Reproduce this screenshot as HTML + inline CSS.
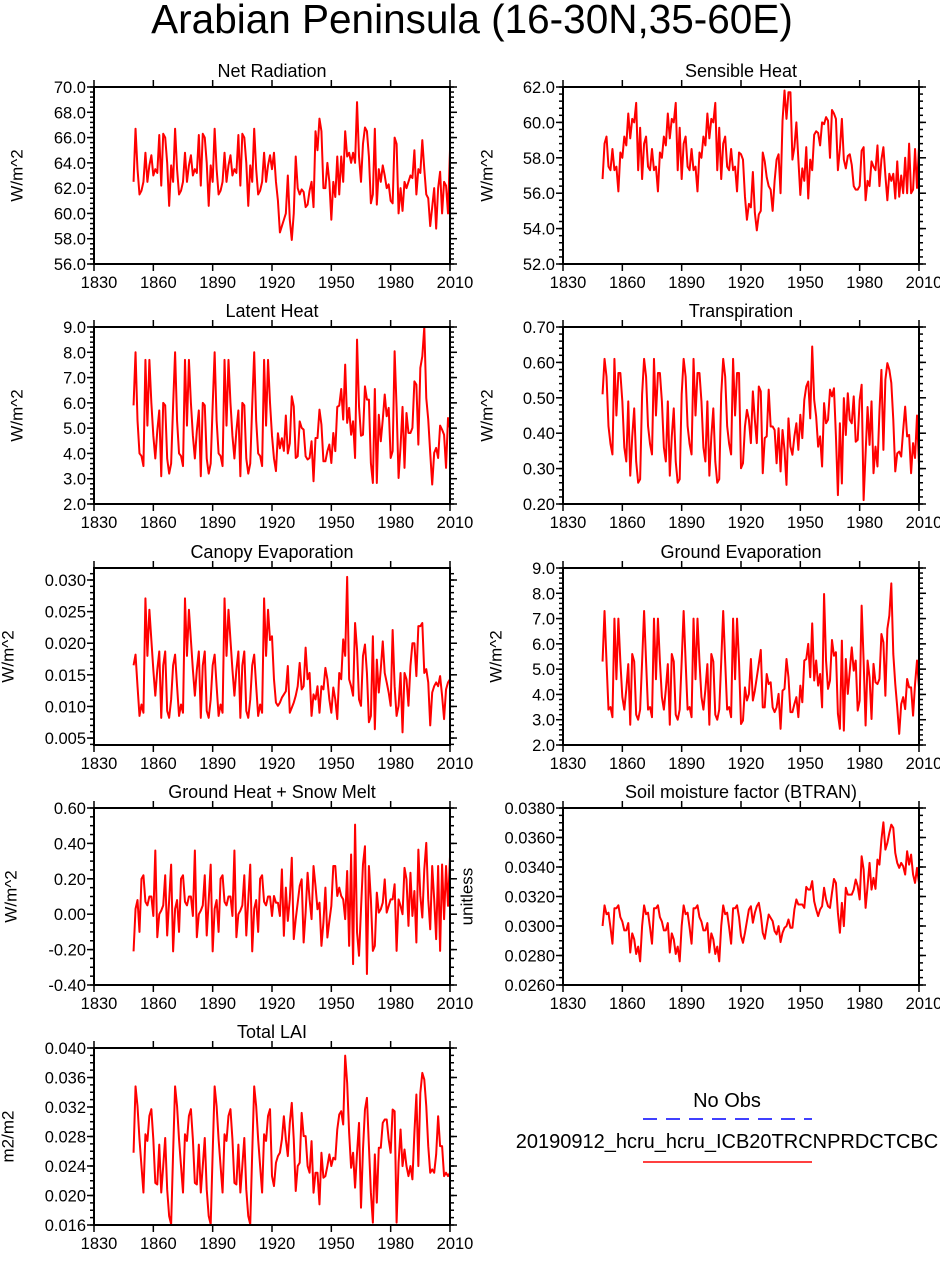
<!DOCTYPE html>
<html><head><meta charset="utf-8"><style>
html,body{margin:0;padding:0;background:#fff;}
svg{display:block;font-family:"Liberation Sans",Arial,sans-serif;}
</style></head><body>
<svg id="chart" width="940" height="1261" viewBox="0 0 940 1261">
<text x="472" y="33" font-size="40.5" text-anchor="middle">Arabian Peninsula (16-30N,35-60E)</text>
<g>
<text x="727" y="1107" font-size="20" text-anchor="middle">No Obs</text>
<line x1="643" y1="1119" x2="812" y2="1119" stroke="#0000ff" stroke-width="1.5" stroke-dasharray="14,9"/>
<text x="727" y="1148" font-size="20" text-anchor="middle">20190912_hcru_hcru_ICB20TRCNPRDCTCBC</text>
<line x1="643" y1="1162" x2="812" y2="1162" stroke="#ff0000" stroke-width="1.5"/>
</g>
</svg>
<script>
const xTicks = [1830,1860,1890,1920,1950,1980,2010];
const firstYear = 1850;

const netRadCycle = [62.5,66.7,63.5,61.5,61.8,62.5,64.8,62.5,63.8,64.6,63.0,63.5,63.2,66.2,62.2,66.3,66.0,64.0,60.6,63.8];
const netRadLate = [63.5,64.8,62.5,61.0,58.5,59.0,59.5,60.0,63.0,59.5,57.9,60.0,64.5,62.0,61.5,61.9,61.7,60.5,60.7,61.8,62.5,60.5,66.5,65.0,67.5,66.5,62.0,62.0,64.0,62.5,59.5,62.5,61.3,64.5,61.5,64.5,62.5,66.5,64.5,64.8,64.0,64.8,64.0,68.8,64.5,62.5,65.5,66.8,66.5,64.5,60.8,61.5,66.7,60.7,63.5,62.5,63.8,63.0,62.0,62.3,61.0,60.8,66.0,65.5,60.0,62.0,60.2,62.5,62.0,62.5,63.0,62.8,65.0,61.5,63.5,63.2,65.8,63.5,61.5,61.2,59.0,60.5,62.0,58.8,62.0,63.3,60.0,62.5,62.2,60.0,65.0];

const sensCycle = [56.8,58.8,59.2,57.5,57.3,58.5,57.3,57.5,56.1,58.3,58.0,59.2,58.7,60.5,59.1,60.2,60.0,61.1,57.3,59.7];
const sensLate = [58.2,57.9,55.8,54.5,55.4,55.2,57.2,54.9,53.9,54.8,55.0,58.3,57.8,56.9,56.4,56.2,55.0,56.7,57.9,58.2,56.0,60.1,61.8,60.2,61.7,61.7,57.9,58.6,60.0,57.9,55.9,57.4,56.7,58.6,55.7,57.9,57.3,59.3,59.5,59.4,58.7,60.0,59.9,60.3,60.1,58.0,60.7,60.5,60.2,57.3,58.5,60.2,57.9,57.4,58.1,58.2,57.6,56.4,56.2,56.2,56.4,58.4,58.6,55.6,56.7,56.4,57.8,57.5,57.3,58.7,56.4,57.9,58.6,57.0,55.6,57.1,56.7,57.1,55.7,57.8,55.8,57.0,56.0,58.0,56.0,58.8,56.0,56.2,58.5,56.3,58.6];

const latentCycle = [5.9,8.0,5.3,4.0,3.9,3.5,7.7,5.1,7.7,6.0,4.7,3.8,4.9,5.7,3.1,6.0,5.9,3.8,3.2,3.6];
const latentLate = [4.7,3.8,3.3,4.8,4.2,4.6,4.1,5.5,4.0,4.4,6.26,5.86,3.82,3.89,5.27,5.01,4.94,3.89,3.76,3.82,4.48,2.90,4.61,4.61,5.73,5.14,3.69,3.69,4.09,4.35,3.62,4.81,4.09,5.84,5.89,6.55,5.34,7.51,5.21,5.80,4.74,5.27,3.82,8.50,5.86,4.70,4.74,6.65,6.13,6.13,3.62,2.83,6.55,2.83,5.53,4.48,5.34,6.33,5.47,5.80,3.82,4.09,8.04,5.80,3.03,4.28,5.84,3.43,5.60,4.81,4.81,5.01,6.85,6.72,4.35,7.38,7.84,9.0,6.19,5.34,4.02,2.77,4.02,4.22,3.82,5.10,4.94,4.74,3.43,5.40,5.0];

const transCycle = [0.51,0.61,0.56,0.42,0.37,0.34,0.61,0.45,0.57,0.57,0.49,0.36,0.32,0.49,0.28,0.39,0.47,0.32,0.26,0.27];
const transLate = [.301,.315,.419,.466,.438,.372,.518,.438,.372,.532,.518,.287,.386,.391,.523,.419,.419,.409,.315,.414,.292,.409,.353,.254,.442,.362,.339,.391,.428,.353,.452,.386,.494,.532,.546,.442,.645,.494,.447,.362,.391,.306,.485,.428,.438,.523,.504,.527,.391,.225,.428,.258,.499,.395,.513,.438,.428,.504,.376,.381,.494,.537,.211,.343,.474,.367,.490,.287,.362,.306,.461,.579,.353,.551,.598,.579,.542,.438,.292,.343,.348,.334,.409,.475,.391,.395,.287,.372,.33,.45,.31];

const canopyCycle = [.0165,.0182,.0132,.0085,.0103,.009,.0271,.018,.0253,.0205,.0158,.0117,.0158,.0187,.0082,.0165,.0187,.0093,.0082,.0111];
const canopyLate = [.0211,.0143,.0106,.0101,.0106,.0114,.0119,.0124,.0164,.0090,.0098,.0106,.0117,.0132,.0169,.0127,.0132,.0193,.0143,.0153,.0085,.0119,.0111,.0132,.0090,.0132,.0127,.0161,.0143,.0111,.0090,.0130,.0111,.0080,.0153,.0143,.0206,.0180,.0305,.0143,.0132,.0117,.0232,.0190,.0111,.0101,.0180,.0198,.0153,.0075,.0085,.0211,.0064,.0174,.0122,.0159,.0203,.0153,.0138,.0122,.0101,.0221,.0132,.0085,.0101,.0153,.0059,.0153,.0143,.0101,.0164,.0200,.0200,.0148,.0227,.0227,.0232,.0153,.0159,.0138,.0070,.0122,.0132,.0138,.0132,.0148,.0117,.0080,.0127,.0138,.0143];

const groundEvapCycle = [5.3,7.3,5.3,3.4,3.5,3.1,7.0,4.6,7.0,5.3,3.9,3.4,4.2,5.2,2.8,5.6,5.3,3.2,3.0,3.4];
const groundEvapLate = [2.83,2.97,4.28,3.76,4.02,5.40,3.76,4.15,4.68,5.21,5.76,3.49,3.49,4.81,4.41,4.48,3.49,3.30,3.49,4.02,2.64,4.15,4.22,5.40,4.68,3.30,3.30,3.62,3.89,3.10,4.35,3.69,5.34,5.40,6.00,4.68,6.81,4.55,5.34,4.35,4.81,3.49,7.97,5.34,4.22,4.55,6.15,5.53,5.67,3.23,2.64,6.13,2.57,5.40,4.02,4.94,5.86,4.94,5.34,3.36,3.76,7.51,5.34,2.77,5.34,4.68,3.03,5.21,4.48,4.41,4.61,6.39,6.06,3.95,6.59,7.12,8.39,5.60,4.41,3.49,2.44,3.62,3.89,3.42,4.61,4.28,4.28,3.16,4.41,5.34,4.28];

const groundHeatCycle = [-0.21,0.03,0.08,-0.10,0.20,0.22,0.07,0.05,0.10,0.10,-0.01,0.36,-0.13,0.0,0.02,0.05,0.22,-0.12,0.08,0.28];
const groundHeatLate = [-.010,.103,.065,.065,-.010,.253,-.122,.150,-.038,.084,.319,-.141,-.028,.065,.159,.197,-.160,.009,.234,.084,-.028,.272,.159,.028,.065,-.179,-.047,.150,-.132,-.038,.047,.272,.272,.103,.150,.103,.084,-.028,.244,-.179,.337,-.282,.506,-.103,-.235,.028,.281,.384,-.338,.272,.084,-.207,-.179,.122,.009,.028,.065,.197,.009,.047,.084,.084,.169,-.207,.084,.047,.000,.262,.197,-.066,.234,-.010,.131,-.160,.365,.103,-.019,.253,.403,.084,-.085,.272,.084,-.141,.272,-.207,.281,-.028,.272,.047,.324];

const btranCycle = [.0300,.0314,.0308,.0309,.0299,.0288,.0312,.0312,.0314,.0306,.0303,.0297,.0297,.0302,.0282,.0295,.0291,.0281,.0286,.0276];
const btranLate = [.02932,.02886,.02954,.03033,.03112,.03134,.03022,.03089,.03134,.03157,.03078,.02954,.02913,.02999,.03078,.03055,.03033,.02965,.02943,.02999,.02891,.02954,.02988,.02999,.03044,.02988,.02988,.03112,.03180,.03146,.03146,.03146,.03123,.03265,.03247,.03247,.03304,.03168,.03112,.03067,.03112,.03134,.03259,.03180,.03134,.03123,.03225,.03319,.03292,.03089,.02954,.03157,.02999,.03259,.03213,.03213,.03213,.03247,.03315,.03270,.03180,.03473,.03383,.03123,.03270,.03428,.03247,.03326,.03252,.03450,.03416,.03586,.03703,.03518,.03563,.03631,.03687,.03665,.03495,.03428,.03394,.03428,.03405,.03349,.03507,.03416,.03484,.03349,.03292,.03394,.03292];

const laiCycle = [.0258,.0348,.0321,.0276,.0240,.0204,.0283,.0274,.0308,.0317,.0276,.0217,.0215,.0269,.0204,.0240,.0278,.0208,.0172,.0161];
const laiLate = [.02263,.02128,.02444,.02534,.02579,.02760,.03075,.02760,.02534,.02985,.03256,.02760,.02061,.02399,.02444,.03120,.02805,.02805,.02399,.02309,.02737,.02038,.02309,.02309,.01880,.02579,.02241,.02263,.02399,.02557,.02399,.02512,.02489,.02895,.03098,.03143,.02963,.03896,.03526,.02850,.02376,.02579,.02106,.02579,.02985,.01835,.02624,.03166,.03324,.02670,.02038,.01632,.02557,.01903,.02647,.02647,.02985,.03030,.03030,.02760,.02579,.03166,.03143,.01632,.02444,.02895,.02399,.02624,.02399,.02263,.02399,.02219,.02850,.03369,.02399,.03391,.03662,.03572,.03211,.02670,.02309,.02354,.02309,.02557,.03075,.02670,.02670,.02263,.02309,.02263,.02309];

const ticksP1 = ["56.0","58.0","60.0","62.0","64.0","66.0","68.0","70.0"];
const ticksP2 = ["52.0","54.0","56.0","58.0","60.0","62.0"];
const ticksP3 = ["2.0","3.0","4.0","5.0","6.0","7.0","8.0","9.0"];
const ticksP4 = ["0.20","0.30","0.40","0.50","0.60","0.70"];
const ticksP5 = ["0.005","0.010","0.015","0.020","0.025","0.030"];
const ticksP6 = ["2.0","3.0","4.0","5.0","6.0","7.0","8.0","9.0"];
const ticksP7 = ["-0.40","-0.20","0.00","0.20","0.40","0.60"];
const ticksP8 = ["0.0260","0.0280","0.0300","0.0320","0.0340","0.0360","0.0380"];
const ticksP9 = ["0.016","0.020","0.024","0.028","0.032","0.036","0.040"];

function full(cycle, late){
  return cycle.concat(cycle, cycle, cycle.slice(0,10), late);
}

const panels = [
 {name:"net-radiation", title:"Net Radiation", yl:"W/m^2", col:0, row:0, ymin:56, ymax:70, ticks:ticksP1, minor:5, data:full(netRadCycle,netRadLate), ylx:18},
 {name:"sensible-heat", title:"Sensible Heat", yl:"W/m^2", col:1, row:0, ymin:52, ymax:62, ticks:ticksP2, minor:5, data:full(sensCycle,sensLate), ylx:488},
 {name:"latent-heat", title:"Latent Heat", yl:"W/m^2", col:0, row:1, ymin:2, ymax:9, ticks:ticksP3, minor:5, data:full(latentCycle,latentLate), ylx:18},
 {name:"transpiration", title:"Transpiration", yl:"W/m^2", col:1, row:1, ymin:0.2, ymax:0.7, ticks:ticksP4, minor:5, data:full(transCycle,transLate), ylx:488},
 {name:"canopy-evaporation", title:"Canopy Evaporation", yl:"W/m^2", col:0, row:2, ymin:0.0039, ymax:0.0319, ticks:ticksP5, minor:5, data:full(canopyCycle,canopyLate), ylx:9},
 {name:"ground-evaporation", title:"Ground Evaporation", yl:"W/m^2", col:1, row:2, ymin:2, ymax:9, ticks:ticksP6, minor:5, data:full(groundEvapCycle,groundEvapLate), ylx:497},
 {name:"ground-heat-snow-melt", title:"Ground Heat + Snow Melt", yl:"W/m^2", col:0, row:3, ymin:-0.4, ymax:0.6, ticks:ticksP7, minor:4, data:full(groundHeatCycle,groundHeatLate), ylx:12},
 {name:"soil-moisture-btran", title:"Soil moisture factor (BTRAN)", yl:"unitless", col:1, row:3, ymin:0.026, ymax:0.038, ticks:ticksP8, minor:4, data:full(btranCycle,btranLate), ylx:468},
 {name:"total-lai", title:"Total LAI", yl:"m2/m2", col:0, row:4, ymin:0.016, ymax:0.040, ticks:ticksP9, minor:4, data:full(laiCycle,laiLate), ylx:9}
];

const NS = "http://www.w3.org/2000/svg";
const svg = document.getElementById('chart');
const boxLeft = [94, 563], boxW = 356, rowTop = [87,327,568,808,1048], boxH = 177;

function mk(tag, attrs, parent){
  const e = document.createElementNS(NS, tag);
  for (const k in attrs) e.setAttribute(k, attrs[k]);
  parent.appendChild(e);
  return e;
}

panels.forEach(p => {
  const L = boxLeft[p.col], T = rowTop[p.row], R = L + boxW, B = T + boxH;
  const xs = yr => L + (yr - 1830) / 180 * boxW;
  const ys = v => B - (v - p.ymin) / (p.ymax - p.ymin) * boxH;
  const g = mk('g', {}, svg);
  
  

  const t = mk('text', {x:(L+R)/2, y:T-10, 'font-size':18, 'text-anchor':'middle'}, g);
  t.textContent = p.title;
  
  

  const yl = mk('text', {x:p.ylx, y:(T+B)/2, 'font-size':17, 'text-anchor':'middle', transform:'rotate(-90 '+p.ylx+' '+((T+B)/2)+')', 'dominant-baseline':'middle'}, g);
  yl.textContent = p.yl;
  
  

  const yt = mk('g', {stroke:'#000', 'stroke-width':1.5}, g);
  
  
  const nT = p.ticks.length;
  for (let i = 0; i < nT; i++) {
    const v = parseFloat(p.ticks[i]);
    const y = ys(v);
    mk('line', {x1:L-7, y1:y, x2:L, y2:y}, yt);
    mk('line', {x1:R, y1:y, x2:R+7, y2:y}, yt);
    const lbl = mk('text', {x:L-8, y:y+6, 'font-size':16.5, 'text-anchor':'end', stroke:'none', fill:'#000'}, g);
    lbl.textContent = p.ticks[i];
    
    
  }
  const step = parseFloat(p.ticks[1]) - parseFloat(p.ticks[0]);
  const ms = step / p.minor;
  let v0 = parseFloat(p.ticks[0]);
  while (v0 - ms >= p.ymin - 1e-9) v0 -= ms;
  for (let v = v0; v <= p.ymax + 1e-9; v += ms) {
    const y = ys(v);
    mk('line', {x1:L-4, y1:y, x2:L, y2:y}, yt);
    mk('line', {x1:R, y1:y, x2:R+4, y2:y}, yt);
  }
  xTicks.forEach(yr => {
    const x = xs(yr);
    mk('line', {x1:x, y1:B, x2:x, y2:B+7}, yt);
    mk('line', {x1:x, y1:T-7, x2:x, y2:T}, yt);
    const lbl = mk('text', {x:x+5, y:B+24, 'font-size':16.5, 'text-anchor':'middle', fill:'#000'}, g);
    lbl.textContent = String(yr);
    
    
  });

  const pts = p.data.map((v, i) => xs(firstYear + i).toFixed(2) + ',' + ys(v).toFixed(2)).join(' ');
  const line = mk('polyline', {points:pts, fill:'none', stroke:'#ff0000', 'stroke-width':2, 'stroke-linejoin':'round'}, g);
  
  

  const box = mk('rect', {x:L, y:T, width:boxW, height:boxH, fill:'none', stroke:'#000', 'stroke-width':2}, g);
  
  
});
</script>
</body></html>
